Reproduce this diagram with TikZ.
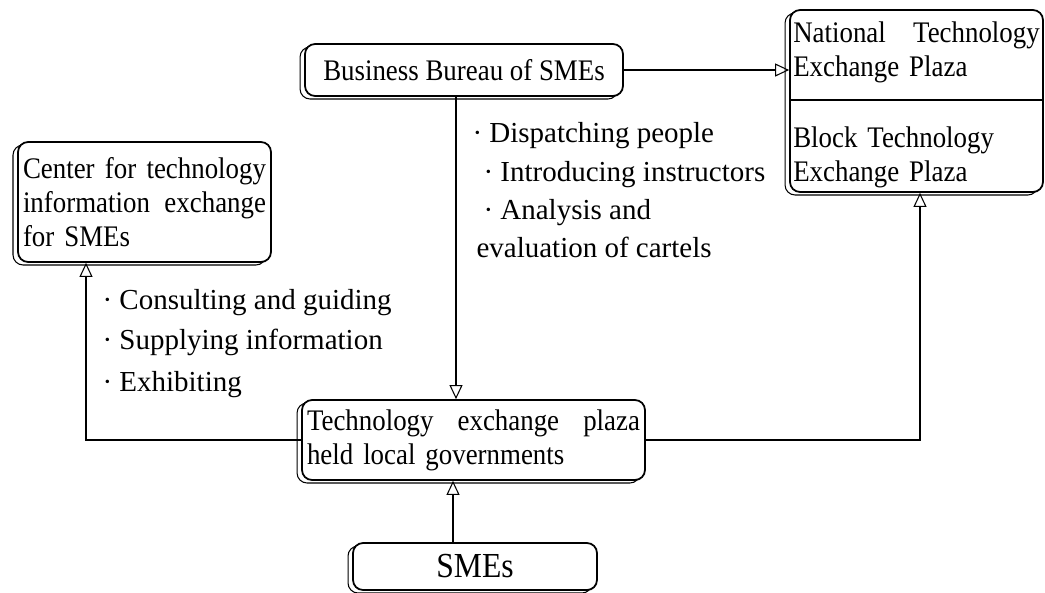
\documentclass[tikz,border=0pt]{standalone}
\usepackage{fontspec}
\setmainfont{Liberation Serif}
\newfontfamily\platefont{Liberation Serif}[FakeStretch=0.9]
\usetikzlibrary{arrows.meta}

\tikzset{
  plate/.style={draw,line width=1pt,rounded corners=0.2cm,fill=white,
    preaction={draw=black,line width=0.6pt,fill=white,transform canvas={xshift=-0.1cm,yshift=-0.06cm}},
    inner xsep=0.1cm,inner ysep=0pt,font=\platefont\fontsize{17}{19.5}\selectfont},
  inbox/.style={text width=4.93cm,align=left,inner sep=0pt,font=\platefont\fontsize{17}{19.5}\selectfont},
  note/.style={anchor=west,inner sep=0pt,text height=1.6ex,text depth=0.4ex,font=\fontsize{16.5}{19}\selectfont}
}

\begin{document}
\begin{tikzpicture}[x=0.02cm,y=-0.02cm,>={Triangle[open,length=0.28cm,width=0.26cm]},line width=0.6pt]
		\useasboundingbox (0,0) rectangle (1045,592);
		% boxes
		\node[plate,minimum width=6.36cm,minimum height=1.04cm] (bureau) at (464,70) {Business Bureau of SMEs};
		\node[plate,minimum width=5.06cm,minimum height=3.64cm] (national) at (916.5,101) {};
		\node[plate,text width=4.86cm,minimum height=2.4cm,align=left] (center) at (144.5,202) {Center\hfill for\hfill technology\\information\hfill exchange\\for SMEs};
		\node[plate,text width=6.66cm,minimum height=1.6cm,align=left] (plaza) at (473.5,440) {Technology\hfill exchange\hfill plaza\\held local governments};
		\node[plate,minimum width=4.88cm,minimum height=0.94cm,font=\platefont\fontsize{20}{22}\selectfont] (smes) at (475,566.5) {SMEs};
		% the two halves of the plaza box
		\node[inbox] (natup) at (916.5,52) {National\hfill Technology\\Exchange Plaza};
		\node[inbox] (natlow) at (916.5,157.5) {Block Technology\\Exchange Plaza};
		\draw[line width=1pt] (national.west |- 0,100) -- (national.east |- 0,100);
		% what goes along the arrows
		\node[note] (disp) at (472,138) {· Dispatching people};
		\node[note] (intro) at (483,177) {· Introducing instructors};
		\node[note] (anal) at (483,215) {· Analysis and};
		\node[note] (eval) at (476,253) {evaluation of cartels};
		\node[note] (cons) at (102,305) {· Consulting and guiding};
		\node[note] (supp) at (102,345) {· Supplying information};
		\node[note] (exhi) at (102,387) {· Exhibiting};
		% connectors
		\draw[->] (bureau.east) -- (bureau.east -| national.west);
		\draw[->] (bureau.south -| 456,0) -- (plaza.north -| 456,0);
		\draw[->] (smes.north -| 453,0) -- (plaza.south -| 453,0);
		\draw[->] (plaza.west) -| (center.south -| 86,0);
		\draw[->] (plaza.east) -| (national.south -| 920,0);
\end{tikzpicture}
\end{document}
